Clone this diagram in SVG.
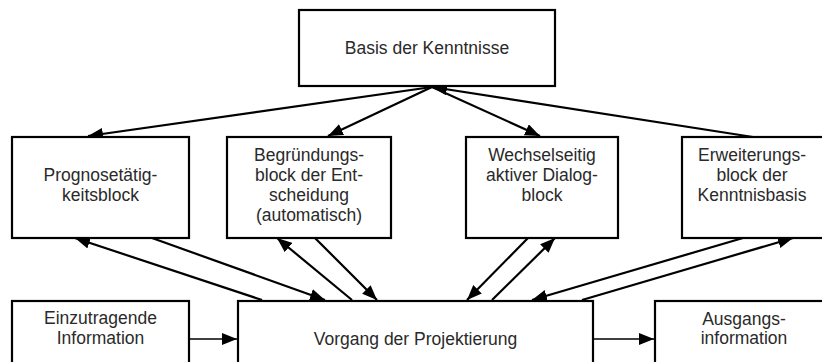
<svg xmlns="http://www.w3.org/2000/svg" width="822" height="362" viewBox="0 0 822 362">
<style>
  .box { fill: #fff; stroke: #000; stroke-width: 2.2; }
  .lbl { font-family: "Liberation Sans", Arial, sans-serif; font-size: 17.5px; fill: #2a2a2a; text-anchor: middle; }
  .con { fill: none; stroke: #000; stroke-width: 2.2; marker-end: url(#ah); }
  .hcon { fill: none; stroke: #000; stroke-width: 1.6; marker-end: url(#ah); }
</style>
<defs>
  <marker id="ah" markerUnits="userSpaceOnUse" markerWidth="16" markerHeight="12" refX="15" refY="6" orient="auto">
    <path d="M0,0 L15,6 L0,12 z" fill="#000"/>
  </marker>
</defs>
<rect width="822" height="362" fill="#fff"/>

<g id="connectors">
  <path class="con" d="M432,87 L88,136"/>
  <path class="con" d="M432,87 L328,136"/>
  <path class="con" d="M432,87 L540,136"/>
  <path class="con" d="M753,137 L432,87"/>
  <path class="con" d="M262,300 L75,238"/>
  <path class="con" d="M152,238 L325,300"/>
  <path class="con" d="M352,300 L277,238"/>
  <path class="con" d="M315,238 L377,300"/>
  <path class="con" d="M528,238 L467,300"/>
  <path class="con" d="M492,300 L555,238"/>
  <path class="con" d="M743,238 L532,300"/>
  <path class="con" d="M582,300 L793,238"/>
  <path class="hcon" d="M189,339 L237,339"/>
  <path class="hcon" d="M593,339 L654,339"/>
</g>

<g id="basis">
  <rect class="box" x="299" y="10" width="256" height="76"/>
  <text class="lbl" x="427" y="54">Basis der Kenntnisse</text>
</g>
<g id="prognose">
  <rect class="box" x="12" y="137" width="177" height="101"/>
  <text class="lbl" x="100.5" y="181">Prognosetätig-</text>
  <text class="lbl" x="100.5" y="201">keitsblock</text>
</g>
<g id="begruendung">
  <rect class="box" x="227" y="137" width="164" height="101"/>
  <text class="lbl" x="309" y="161">Begründungs-</text>
  <text class="lbl" x="309" y="181">block der Ent-</text>
  <text class="lbl" x="309" y="201">scheidung</text>
  <text class="lbl" x="309" y="221">(automatisch)</text>
</g>
<g id="dialog">
  <rect class="box" x="466" y="137" width="152" height="101"/>
  <text class="lbl" x="542" y="161">Wechselseitig</text>
  <text class="lbl" x="542" y="181">aktiver Dialog-</text>
  <text class="lbl" x="542" y="201">block</text>
</g>
<g id="erweiterung">
  <rect class="box" x="682" y="137" width="143" height="101"/>
  <text class="lbl" x="752" y="161">Erweiterungs-</text>
  <text class="lbl" x="752" y="181">block der</text>
  <text class="lbl" x="752" y="201">Kenntnisbasis</text>
</g>
<g id="einzutragende">
  <rect class="box" x="12" y="301" width="177" height="70"/>
  <text class="lbl" x="100.5" y="324">Einzutragende</text>
  <text class="lbl" x="100.5" y="344">Information</text>
</g>
<g id="vorgang">
  <rect class="box" x="238" y="301" width="355" height="70"/>
  <text class="lbl" x="415.5" y="345">Vorgang der Projektierung</text>
</g>
<g id="ausgang">
  <rect class="box" x="655" y="301" width="170" height="70"/>
  <text class="lbl" x="744" y="325">Ausgangs-</text>
  <text class="lbl" x="744" y="344">information</text>
</g>
</svg>
